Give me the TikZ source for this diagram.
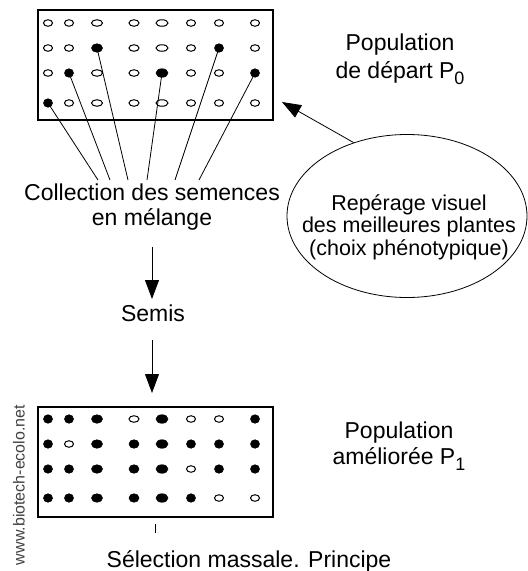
\documentclass[tikz,border=0pt]{standalone}
\usepackage{fontspec}
\setmainfont{Liberation Sans}
\usepackage{tikz}
\usetikzlibrary{shapes.geometric, arrows.meta}
\tikzstyle{arrow} = [
    line width=0.8pt,
    -{Triangle[length=19pt, width=14pt]}
]
\tikzstyle{dot0} = [ellipse, draw, line width=1pt, inner sep=0pt, minimum height=6.5pt]
\tikzstyle{dot1} = [ellipse, draw, fill=black, line width=0.6pt, inner sep=0pt, minimum height=8.5pt]
\tikzstyle{popbox} = [draw, line width=1.2pt, minimum width=235pt, minimum height=110pt]
\tikzstyle{txt} = [align=center, inner sep=0pt, font=\fontsize{23}{26}\selectfont]
\newcommand{\psub}[1]{\raisebox{-6pt}{\fontsize{18}{18}\selectfont #1}}
\def\colx{{48,69,97,134,162,191,219,255}}
\def\colw{{9,9,11,10,12,9,9,9}}
\def\topy{{23,48,73,103}}
\def\boty{{419,444,469,498}}

\begin{document}
\begin{tikzpicture}[x=1pt, y=-1pt]
        \useasboundingbox (0,0) rectangle (528,571);

        % Starting population
        \node[popbox] (pop0) at (155.5,65) {};
        \foreach \pat [count=\r] in {{0,0,0,0,0,0,0,0},{0,0,1,0,0,0,1,0},{0,1,0,0,1,0,0,1},{1,0,0,0,0,0,0,0}} {
            \foreach \f [count=\c] in \pat {
                \pgfmathsetmacro\xx{\colx[\c-1]}
                \pgfmathsetmacro\ww{\colw[\c-1]}
                \pgfmathsetmacro\yy{\topy[\r-1]}
                \node[dot\f, minimum width=\ww pt] (t-\r-\c) at (\xx,\yy) {};
            }
        }
        \node[txt, font=\fontsize{23}{28}\selectfont] (p0text) at (400,59) {Population\\de départ P\psub{0}};

        % Seeds collected from the chosen plants
        \node[txt, font=\fontsize{23}{25}\selectfont] (collect) at (152,207.5) {Collection des semences\\en mélange};
        \foreach \d/\x in {t-4-1/98, t-3-2/110, t-2-3/128, t-3-5/147, t-2-7/175, t-3-8/199} {
            \coordinate (s-\d) at (\x,180);
            \draw[line width=0.8pt] (\d.center) -- (s-\d);
        }

        % Visual choice
        \node[ellipse, draw, line width=0.8pt, minimum width=240pt, minimum height=163pt] (reperage) at (407,216) {};
        \node[txt, font=\fontsize{21.5}{22.5}\selectfont] (reptext) at (409,227) {Repérage visuel\\des meilleures plantes\\(choix phénotypique)};
        \coordinate (ptip) at (282,102);
        \draw[arrow] (reperage.126) -- (ptip);

        % Sowing
        \node[txt] (semis) at (153,313) {Semis};
        \coordinate (a1) at (152,247);
        \coordinate (a2) at (152,299);
        \coordinate (a3) at (152,340);
        \coordinate (a4) at (152,393);
        \draw[arrow] (a1) -- (a2);
        \draw[arrow] (a3) -- (a4);

        % Improved population
        \node[popbox] (pop1) at (155.5,462) {};
        \foreach \pat [count=\r] in {{1,1,1,0,1,0,0,1},{1,0,1,1,1,1,1,1},{1,1,1,1,1,0,1,1},{1,1,1,1,1,1,0,0}} {
            \foreach \f [count=\c] in \pat {
                \pgfmathsetmacro\xx{\colx[\c-1]}
                \pgfmathsetmacro\ww{\colw[\c-1]}
                \pgfmathsetmacro\yy{\boty[\r-1]}
                \node[dot\f, minimum width=\ww pt] (b-\r-\c) at (\xx,\yy) {};
            }
        }
        \node[txt, font=\fontsize{23}{26}\selectfont] (p1text) at (399,446) {Population\\améliorée P\psub{1}};
        \draw[line width=0.8pt] ([yshift=-6pt]pop1.south) -- ++(0,9);

        % Title and source
        \node[txt] (title) at (249,561) {Sélection massale. Principe};
        \node[txt, rotate=90, font=\fontsize{16}{16}\selectfont, text=black!75] (source) at (19,485) {www.biotech-ecolo.net};
    \end{tikzpicture}
\end{document}
